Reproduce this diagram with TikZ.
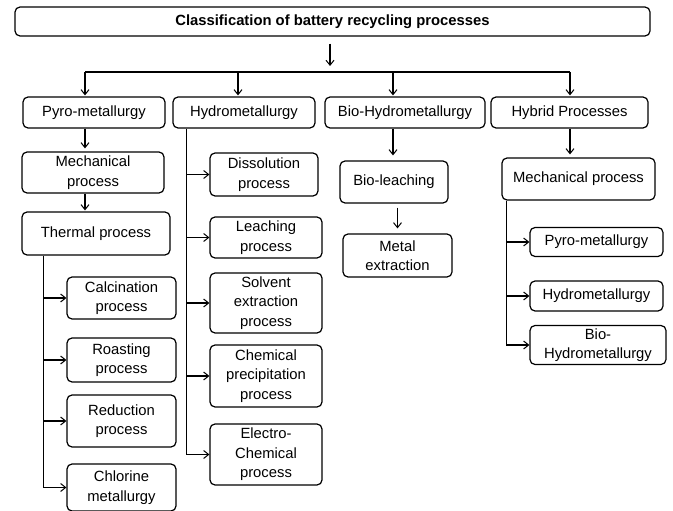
\documentclass[tikz,border=0pt]{standalone}
\usepackage{fontspec}
\setmainfont{Liberation Sans}
\usetikzlibrary{arrows.meta}
\begin{document}
\begin{tikzpicture}[x=1pt,y=-1pt,
  box/.style={draw, rounded corners=5pt, line width=1.2pt, align=center, inner sep=0pt,
    font=\fontsize{14.8}{19.5}\selectfont},
  ln/.style={line width=1.2pt},
  arr/.style={line width=1.2pt, -{Straight Barb[length=5pt,width=8pt,line width=1pt]}}]
\useasboundingbox (0,0) rectangle (673,511);
% top
\node[box, minimum width=635pt, minimum height=29pt, font=\bfseries\fontsize{14.8}{19.5}\selectfont] (top) at (332.5,21.5) {Classification of battery recycling processes};
% level 1
\node[box, minimum width=142pt, minimum height=31pt] (pyro) at (94,112.5) {Pyro-metallurgy};
\node[box, minimum width=142pt, minimum height=31pt] (hydro) at (244,112.5) {Hydrometallurgy};
\node[box, minimum width=160pt, minimum height=31pt] (bio) at (405,112.5) {Bio-Hydrometallurgy};
\node[box, minimum width=157pt, minimum height=31pt] (hyb) at (569.5,112.5) {Hybrid Processes};
% pyro column
\node[box, minimum width=142pt, minimum height=41pt] (mech1) at (93,172.5) {Mechanical\\process};
\node[box, minimum width=148pt, minimum height=43pt] (therm) at (96,233.5) {Thermal process};
\node[box, minimum width=109pt, minimum height=42pt] (calc) at (121.5,298) {Calcination\\process};
\node[box, minimum width=109pt, minimum height=44pt] (roast) at (121.5,360) {Roasting\\process};
\node[box, minimum width=109pt, minimum height=52pt] (reduc) at (121.5,421) {Reduction\\process};
\node[box, minimum width=109pt, minimum height=47pt] (chlor) at (121.5,487.5) {Chlorine\\metallurgy};
% hydro column
\node[box, minimum width=108pt, minimum height=43pt] (diss) at (264,174.5) {Dissolution\\process};
\node[box, minimum width=112pt, minimum height=41pt] (leach) at (266,237.5) {Leaching\\process};
\node[box, minimum width=112pt, minimum height=60pt] (solv) at (266,303) {Solvent\\extraction\\process};
\node[box, minimum width=112pt, minimum height=62pt] (chem) at (266,376) {Chemical\\precipitation\\process};
\node[box, minimum width=112pt, minimum height=61pt] (elec) at (266,454.5) {Electro-\\Chemical\\process};
% bio column
\node[box, minimum width=108pt, minimum height=42pt] (bleach) at (394,182) {Bio-leaching};
\node[box, minimum width=109pt, minimum height=43pt] (metal) at (397.5,255.5) {Metal\\extraction};
% hybrid column
\node[box, minimum width=153pt, minimum height=42pt] (mech2) at (578.5,179) {Mechanical process};
\node[box, minimum width=133pt, minimum height=29pt] (hpyro) at (596.5,242) {Pyro-metallurgy};
\node[box, minimum width=133pt, minimum height=30pt] (hhydro) at (596.5,296) {Hydrometallurgy};
\node[box, minimum width=136pt, minimum height=39pt] (hbio) at (598,345) {Bio-\\Hydrometallurgy};

% top distribution
\coordinate (bar) at (330,72);
\draw[arr] ([yshift=-7pt]top.south -| bar) -- ([yshift=6pt]bar);
\draw[ln] (85,72) coordinate (b1) -- (570,72) coordinate (b4);
\coordinate (b2) at (238,72);
\coordinate (b3) at (393,72);
\draw[arr] (b1) -- ([yshift=1pt]b1 |- pyro.north);
\draw[arr] (b2) -- ([yshift=1pt]b2 |- hydro.north);
\draw[arr] (b3) -- ([yshift=1pt]b3 |- bio.north);
\draw[arr] (b4) -- ([yshift=1pt]b4 |- hyb.north);

% pyro branch
\draw[arr] (pyro.south -| b1) -- ([yshift=3pt]mech1.north -| b1);
\draw[arr] (mech1.south -| b1) -- ([yshift=1pt]therm.north -| b1);
\coordinate (pt) at ([xshift=22pt]therm.south west);
\draw[ln] (pt) -- (pt |- chlor.west);
\foreach \n in {calc,roast,reduc,chlor}
  \draw[arr] (pt |- \n.west) -- (\n.west);

% hydro branch
\coordinate (ht) at ([xshift=14pt]hydro.south west);
\draw[ln] (ht) -- (ht |- elec.west);
\foreach \n in {diss,leach,solv,chem,elec}
  \draw[arr] (ht |- \n.west) -- (\n.west);

% bio branch
\draw[arr] (bio.south -| b3) -- ([yshift=5pt]bleach.north -| b3);
\draw[arr] ([yshift=-4pt]bleach.south -| metal) -- ([yshift=5pt]metal.north);

% hybrid branch
\draw[arr] (hyb.south -| b4) -- ([yshift=3pt]mech2.north -| b4);
\coordinate (yt) at ([xshift=5pt]mech2.south west);
\draw[ln] (yt) -- (yt |- hbio.west);
\foreach \n in {hpyro,hhydro,hbio}
  \draw[arr] (yt |- \n.west) -- (\n.west);
\end{tikzpicture}
\end{document}
